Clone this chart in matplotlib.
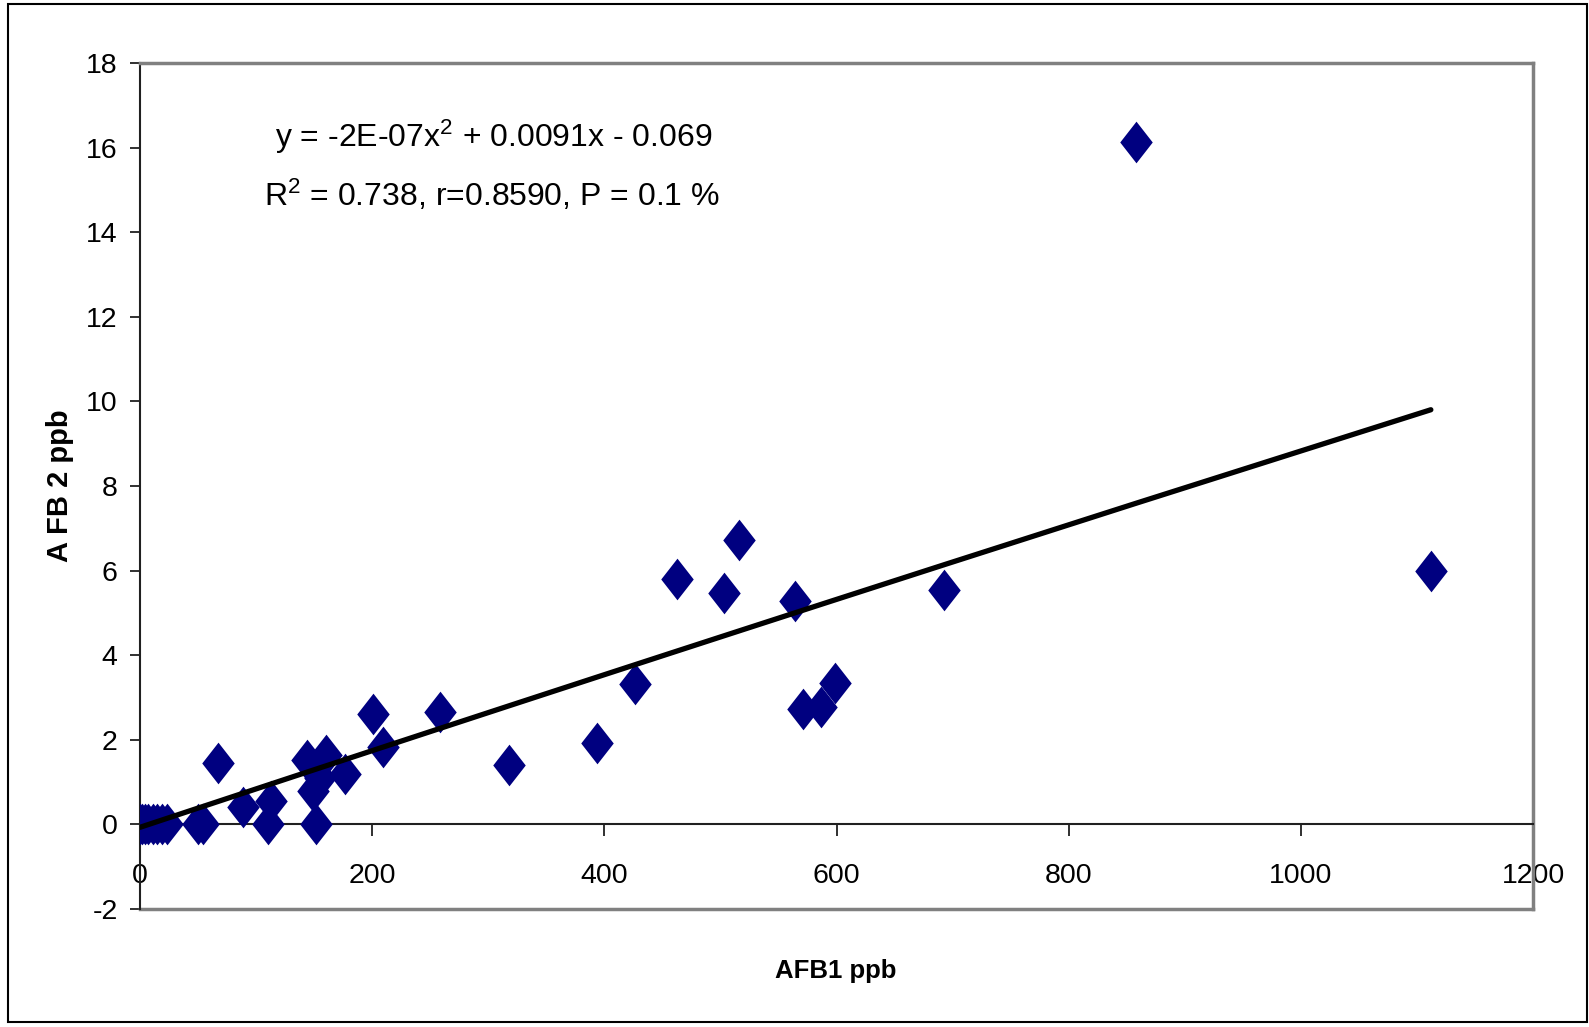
import numpy as np
import matplotlib
matplotlib.use("Agg")
import matplotlib.pyplot as plt
from matplotlib.patches import Rectangle

plt.rcParams['font.family'] = ['Liberation Sans', 'DejaVu Sans']
plt.rcParams['axes.unicode_minus'] = False
plt.rcParams['mathtext.fontset'] = 'custom'
plt.rcParams['mathtext.rm'] = 'Liberation Sans'

# ---- data ----
afb1 = [0, 2, 4, 7, 11, 15, 19, 23, 50, 54, 67, 89, 110, 113, 143.5, 149, 152,
        155, 160, 177, 201, 209, 258.5, 318, 394, 426.5, 462.5, 503, 516, 564,
        571.5, 587, 598.5, 693, 858, 1112]
afb2 = [0, 0, 0, 0, 0, 0, 0, 0, 0, 0, 1.46, 0.40, 0, 0.55, 1.52, 0.80, 0,
        1.10, 1.64, 1.20, 2.60, 1.84, 2.66, 1.40, 1.93, 3.32, 5.79, 5.46, 6.73,
        5.27, 2.73, 2.78, 3.34, 5.55, 16.13, 6.00]
trend_coef = [-2e-07, 0.0091, -0.069]   # from the displayed equation

x_ticks = [0, 200, 400, 600, 800, 1000, 1200]
y_ticks = [-2, 0, 2, 4, 6, 8, 10, 12, 14, 16, 18]
x_label = "AFB1 ppb"
y_label = "A FB 2 ppb"
eq_line1 = r"y = -2E-07x$\mathregular{^{2}}$ + 0.0091x - 0.069"
eq_line2 = r"R$\mathregular{^{2}}$ = 0.738, r=0.8590, P = 0.1 %"

W, H = 1589, 1027
fig = plt.figure(figsize=(W / 100, H / 100), dpi=100)
ax = fig.add_axes([140 / W, 1 - 909 / H, (1533 - 140) / W, (909 - 63) / H])

diamond = [(-0.39, 0), (0, 0.5), (0.39, 0), (0, -0.5), (-0.39, 0)]
ax.plot(afb1, afb2, linestyle='none', marker=diamond, markersize=30,
        color='#000080', markeredgewidth=0, zorder=3)

xl = np.array(sorted(set(afb1)), dtype=float)
ax.plot(xl, np.polyval(trend_coef, xl), color='black', lw=3.8,
        solid_capstyle='round', solid_joinstyle='round', zorder=4)

ax.set_xlim(0, 1200)
ax.set_ylim(-2, 18)
ax.set_xticks(x_ticks)
ax.set_xticklabels([str(v) for v in x_ticks])
ax.set_yticks(y_ticks)
ax.set_yticklabels([str(v) for v in y_ticks])

gray = '#808080'
for s in ['top', 'right']:
    ax.spines[s].set_color(gray)
    ax.spines[s].set_linewidth(2.5)
ax.spines['left'].set_color('#202020')
ax.spines['left'].set_linewidth(1.5)
ax.spines['bottom'].set_position(('data', 0))
ax.spines['bottom'].set_color('#202020')
ax.spines['bottom'].set_linewidth(1.5)
ax.axhline(-2, color=gray, lw=2.5, clip_on=False, zorder=2)

ax.tick_params(axis='x', direction='out', length=8.5, width=1.3,
               pad=19, labelsize=20.5, colors='#202020', labelcolor='black')
ax.tick_params(axis='y', direction='out', length=7.2, width=1.3,
               pad=9, labelsize=20.5, colors='#202020', labelcolor='black')

fig.text(494 / W, 1 - 137 / H, eq_line1, fontsize=23, ha='center', va='center')
fig.text(492 / W, 1 - 195 / H, eq_line2, fontsize=23, ha='center', va='center')

fig.text(836 / W, 1 - 971 / H, x_label, fontsize=18.5, fontweight='bold',
         ha='center', va='center')
fig.text(60 / W, 1 - 486 / H, y_label, fontsize=21, fontweight='bold',
         ha='center', va='center', rotation=90)

fig.patches.append(Rectangle((8 / W, 1 - 1022 / H), (1587 - 8) / W, (1022 - 4) / H,
                             transform=fig.transFigure, fill=False,
                             edgecolor='black', lw=1.5))

fig.savefig("out.png", dpi=100)
